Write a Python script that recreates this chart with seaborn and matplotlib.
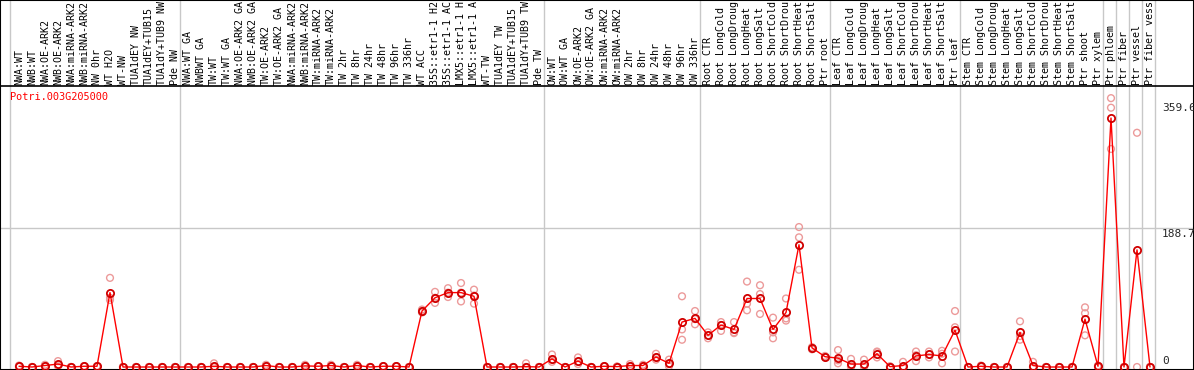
import numpy as np
import pandas as pd
import matplotlib
matplotlib.use("Agg")
import matplotlib.pyplot as plt
import seaborn as sns

gene = "Potri.003G205000"

labels = [
    "NWA:WT", "NWB:WT", "NWA:OE-ARK2", "NWB:OE-ARK2", "NWA:miRNA-ARK2", "NWB:miRNA-ARK2",
    "NW 0hr", "WT H2O", "WT-NW", "TUA1dEY NW", "TUA1dEY+TUB15", "TUA1dY+TUB9 NW", "Pde NW",
    "NWA:WT GA", "NWBWT GA", "TW:WT", "TW:WT GA", "NWA:OE-ARK2 GA", "NWB:OE-ARK2 GA",
    "TW:OE-ARK2", "TW:OE-ARK2 GA", "NWA:miRNA-ARK2", "NWB:miRNA-ARK2", "TW:miRNA-ARK2",
    "TW:miRNA-ARK2", "TW 2hr", "TW 8hr", "TW 24hr", "TW 48hr", "TW 96hr", "TW 336hr",
    "WT ACC", "35S::etr1-1 H2", "35S::etr1-1 AC", "LMX5::etr1-1 H", "LMX5::etr1-1 A",
    "WT-TW", "TUA1dEY TW", "TUA1dEY+TUB15", "TUA1dY+TUB9 TW", "Pde TW",
    "OW:WT", "OW:WT GA", "OW:OE-ARK2", "OW:OE-ARK2 GA", "OW:miRNA-ARK2", "OW:miRNA-ARK2",
    "OW 2hr", "OW 8hr", "OW 24hr", "OW 48hr", "OW 96hr", "OW 336hr",
    "Root CTR", "Root LongCold", "Root LongDroug", "Root LongHeat", "Root LongSalt",
    "Root ShortCold", "Root ShortDrou", "Root ShortHeat", "Root ShortSalt", "Ptr root",
    "Leaf CTR", "Leaf LongCold", "Leaf LongDroug", "Leaf LongHeat", "Leaf LongSalt",
    "Leaf ShortCold", "Leaf ShortDrou", "Leaf ShortHeat", "Leaf ShortSalt", "Ptr leaf",
    "Stem CTR", "Stem LongCold", "Stem LongDroug", "Stem LongHeat", "Stem LongSalt",
    "Stem ShortCold", "Stem ShortDrou", "Stem ShortHeat", "Stem ShortSalt", "Ptr shoot",
    "Ptr xylem", "Ptr phloem", "Ptr fiber", "Ptr vessel", "Ptr fiber vess",
]

# group boundaries (index of first sample in each new group)
group_starts = [0, 13, 41, 53, 63, 73, 84, 85, 86, 87, 88]

means = [
    1, 0, 2, 4, 0, 1, 1, 101, 0, 0, 0, 0, 0,
    0, 0, 1, 0, 0, 0, 2, 0, 0, 1.5, 1, 2, 0, 2, 0, 1, 1, 0,
    76, 94, 101, 101, 96, 0, 0, 0, 0.5, 0,
    11, 0, 8, 0, 1, 0.5, 2, 2, 13.6, 5, 61, 66,
    43, 57, 51, 93, 93, 51, 74, 166, 26, 14,
    12, 4, 4, 18, 0.5, 2, 15, 17, 15, 50,
    0, 1, 0, 0, 47, 2, 0, 0, 0, 65, 1,
    338, 0, 159, 0,
]

rep1 = [
    2, 0, 3, 8, 0, 1, 1, 121, 0, 0, 0, 0, 0,
    0, 0, 5, 0, 0, 0, 3, 0, 0, 3, 1, 3, 0, 3, 0, 1, 1, 0,
    78, 102, 107, 114, 105, 0, 0, 0, 5, 0,
    17, 0, 13, 0, 1, 0.5, 4, 3, 18, 10, 96, 76,
    47, 61, 61, 116, 111, 67, 93, 190, 27, 15,
    23, 11, 10, 21, 1, 7, 21, 21, 22, 76,
    0, 2, 0, 0, 62, 7, 0, 0, 0, 81, 2,
    365, 0, 318, 0,
]

rep2 = [
    0.5, 0, 2, 3, 0, 1, 1, 94, 0, 0, 0, 0, 0,
    0, 0, 0, 0, 0, 0, 2, 0, 0, 1, 1, 2, 0, 2, 0, 1, 1, 0,
    76, 94, 101, 101, 97, 0, 0, 0, 0, 0,
    10, 0, 7, 0, 1, 0.5, 1, 2, 13, 4, 51, 65,
    43, 57, 47, 86, 99, 47, 66, 176, 25, 14,
    9, 1, 2, 20, 0.5, 0, 16, 17, 18, 54,
    0, 1, 0, 0, 42, 0, 0, 0, 0, 73, 1,
    352, 0, 0, 0,
]

rep3 = [
    0.5, 0, 1, 1, 0, 1, 1, 91, 0, 0, 0, 0, 0,
    0, 0, 0, 0, 0, 0, 1, 0, 0, 0.5, 1, 1, 0, 1, 0, 1, 1, 0,
    74, 87, 95, 89, 86, 0, 0, 0, 0, 0,
    7, 0, 4, 0, 1, 0.5, 1, 1, 10, 1, 37, 58,
    39, 49, 46, 77, 72, 39, 63, 132, 24, 13,
    5, 0, 0, 13, 0, 0, 8, 13, 5, 21,
    0, 0, 0, 0, 37, 0, 0, 0, 0, 43, 0,
    296, 0, np.nan, 0,
]

yticks = [0, 188.7, 359.6]

# ---------------------------------------------------------------
W, H = 1194, 370
PX0, STEP = 19, 13          # pixel x of first sample, pixel spacing
Y0, SCALE = 367, 0.7366     # pixel y of value 0, pixels per unit
TOP = 86                    # header separator line (pixels)

n = len(labels)
pos = np.arange(n)
df_mean = pd.DataFrame({"pos": pos, "value": means})
df_rep = pd.DataFrame({
    "pos": np.concatenate([pos, pos, pos]),
    "value": np.concatenate([rep1, rep2, rep3]).astype(float),
}).dropna()

sns.set_style("white")
plt.rcParams["font.family"] = ["DejaVu Sans Mono"]

fig = plt.figure(figsize=(W / 100, H / 100), dpi=100)

xlim = (-PX0 / STEP, (W - PX0) / STEP)

# background axes in pixel units for header and frame
bg = fig.add_axes([0, 0, 1, 1])
bg.set_xlim(xlim)
bg.set_ylim(H, 0)
bg.set_xticks([])
bg.set_yticks([])
for s in bg.spines.values():
    s.set_color("black")
    s.set_linewidth(1.5)

for k in group_starts:
    xk = k - (8 if k > 0 else 9) / STEP
    bg.plot([xk, xk], [0, H], color="#c8c8c8", lw=1.0, zorder=1)
bg.plot([xlim[0], xlim[1]], [TOP, TOP], color="black", lw=1.2, zorder=2)
y1887 = Y0 - 188.7 * SCALE
bg.plot([xlim[0], xlim[1]], [y1887, y1887], color="#c8c8c8", lw=1.0, zorder=1)

for i, lab in enumerate(labels):
    bg.text(i, TOP - 1, lab, rotation=90, ha="center", va="bottom",
            fontsize=7.2, color="black")

bg.text((10 - PX0) / STEP, 97, gene, ha="left", va="center",
        fontsize=7.4, color="#ff0000")

xr = (1162 - PX0) / STEP
for v in yticks:
    yp = Y0 - v * SCALE
    if v == 0:
        bg.text(xr, yp - 1, "0", ha="left", va="bottom", fontsize=8)
    else:
        bg.text(xr, yp + 1, f"{v:.1f}", ha="left", va="top", fontsize=8)

# main plotting axes
ax = fig.add_axes([0, (H - 369) / H, 1, (369 - TOP) / H])
ax.set_xlim(xlim)
ax.set_ylim((Y0 - 369) / SCALE, (Y0 - TOP) / SCALE)
ax.patch.set_alpha(0)
for s in ax.spines.values():
    s.set_visible(False)

sns.scatterplot(data=df_rep, x="pos", y="value", ax=ax, marker="o", s=24,
                facecolors="none", edgecolor="#ec9a9a", linewidth=1.0,
                zorder=2, legend=False)
sns.lineplot(data=df_mean, x="pos", y="value", ax=ax, color="#ff0000",
             lw=1.0, marker="o", markersize=5.2, markerfacecolor="none",
             markeredgecolor="#d00000", markeredgewidth=1.3, zorder=3,
             legend=False)

ax.set_xticks([])
ax.set_yticks([])
ax.set_xlabel("")
ax.set_ylabel("")

fig.savefig("out.png", dpi=100)
